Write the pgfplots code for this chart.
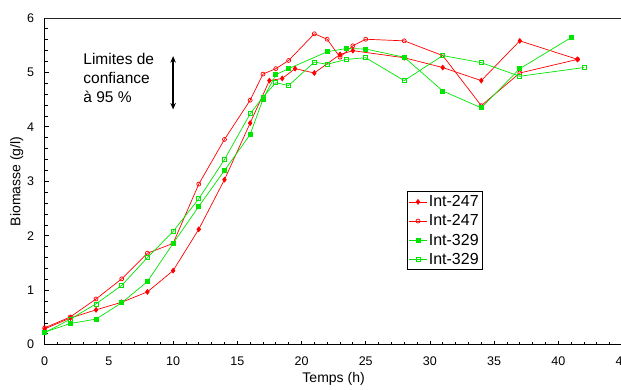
\documentclass[border=0pt]{standalone}
\usepackage{fontspec}
\setmainfont{Liberation Sans}
\usepackage{pgfplots}
\pgfplotsset{compat=1.18}
\usetikzlibrary{arrows.meta}
\definecolor{rd}{RGB}{255,0,0}
\definecolor{gr}{RGB}{0,230,0}
\begin{document}
\begin{tikzpicture}
\begin{axis}[
  scale only axis, width=577.8pt, height=326.7pt,
  at={(0pt,0pt)}, anchor=south west,
  xmin=0, xmax=45, ymin=0, ymax=6,
  xtick={0,5,...,45}, ytick={0,1,...,6},
  minor x tick num=4, minor y tick num=4,
  axis lines=left, axis line style={-, line width=1.1pt, black},
  tick align=inside,
  major tick length=4pt, minor tick length=3pt,
  every tick/.style={black, line width=0.8pt},
  /pgf/number format/assume math mode=true,
  tick label style={font=\fontsize{12.5}{14}\selectfont},
  yticklabel style={xshift=-7pt},
  xticklabel style={yshift=-9pt},
  label style={font=\fontsize{14}{16}\selectfont},
  xlabel={Temps (h)}, ylabel={Biomasse (g/l)},
  xlabel style={yshift=1pt},
  ylabel style={yshift=-3pt},
  legend style={at={(0.6265,0.47)}, anchor=north west, draw=black, line width=0.8pt,
    font=\fontsize{16}{18}\selectfont, inner sep=2pt, row sep=2.5pt},
  legend cell align=left,
]
\addplot[rd, line width=0.7pt, mark=diamond*, mark size=2.4pt, mark options={solid, fill=rd}] coordinates {
(0,0.29) (2,0.49) (4,0.64) (6,0.78) (8,0.97) (10,1.36) (12,2.12) (14,3.03) (16,4.07)
(17.5,4.85) (18.5,4.89) (19.5,5.07) (21,4.99) (23,5.33) (24,5.40) (28,5.27) (31,5.09)
(34,4.85) (37,5.58) (41.5,5.24)};
\addlegendentry{Int-247}
\addplot[rd, line width=0.7pt, mark=o, mark size=2pt, mark options={solid, fill=white}] coordinates {
(0,0.31) (2,0.51) (4,0.84) (6,1.21) (8,1.68) (10,1.86) (12,2.95) (14,3.77) (16,4.49)
(17,4.97) (18,5.07) (19,5.22) (21,5.71) (22,5.61) (23,5.28) (24,5.49) (25,5.61) (28,5.58)
(31,5.31) (34,4.39) (37,4.99) (41.5,5.24)};
\addlegendentry{Int-247}
\addplot[gr, line width=0.7pt, mark=square*, mark size=2pt, mark options={solid, fill=gr}] coordinates {
(0,0.23) (2,0.39) (4,0.47) (6,0.77) (8,1.16) (10,1.86) (12,2.54) (14,3.20) (16,3.86)
(17,4.51) (18,4.96) (19,5.07) (22,5.38) (23.5,5.44) (25,5.43) (28,5.28) (31,4.66)
(34,4.35) (37,5.07) (41,5.64)};
\addlegendentry{Int-329}
\addplot[gr, line width=0.7pt, mark=square, mark size=2pt, mark options={solid, fill=white}] coordinates {
(0,0.22) (2,0.47) (4,0.75) (6,1.09) (8,1.60) (10,2.08) (12,2.68) (14,3.40) (16,4.24)
(17,4.55) (18,4.81) (19,4.76) (21,5.19) (22,5.15) (23.5,5.24) (25,5.27) (28,4.85)
(31,5.31) (34,5.18) (37,4.93) (42,5.09)};
\addlegendentry{Int-329}
\draw[black!85, line width=0.9pt] (rel axis cs:0,1) -- (rel axis cs:1,1) -- (rel axis cs:1,0);
\draw[{Stealth[length=6.5pt,width=5.5pt]}-{Stealth[length=6.5pt,width=5.5pt]}, line width=1.3pt]
  (axis cs:10,5.30) -- (axis cs:10,4.32);
\node[anchor=west, align=left, inner sep=0pt, font=\fontsize{15.5}{18.7}\selectfont]
  at (axis cs:3.0,4.90) {Limites de\\confiance\\à 95 \%};
\end{axis}
\pgfresetboundingbox
\path[use as bounding box] (-44.7pt,-45pt) rectangle (576.3pt,344.7pt);
\end{tikzpicture}
\end{document}
